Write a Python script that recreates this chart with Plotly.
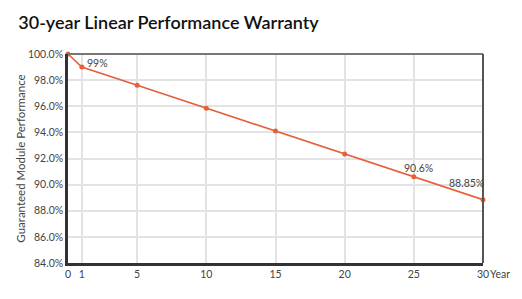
import plotly.graph_objects as go

years = [0, 1, 5, 10, 15, 20, 25, 30]
performance = [100.0, 99.0, 97.6, 95.85, 94.1, 92.35, 90.6, 88.85]
x_tick_vals = [0, 1, 5, 10, 15, 20, 25, 30]
x_tick_text = ["0", "1", "5", "10", "15", "20", "25", "30"]
y_tick_vals = [84, 86, 88, 90, 92, 94, 96, 98, 100]
y_tick_text = ["84.0%", "86.0%", "88.0%", "90.0%", "92.0%", "94.0%", "96.0%", "98.0%", "100.0%"]
label_points = [(1, 99.0, "99%"), (25, 90.6, "90.6%"), (30, 88.85, "88.85%")]

FONT = "Lato, Roboto, sans-serif"
LINE = "#E5603A"

fig = go.Figure()
fig.add_trace(go.Scatter(
    x=years, y=performance, mode="lines+markers",
    line=dict(color=LINE, width=1.6),
    marker=dict(color=LINE, size=5),
    hoverinfo="skip", cliponaxis=False,
))

offsets = {"99%": (16, 4), "90.6%": (5, 9), "88.85%": (-17, 17)}
for x, y, t in label_points:
    dx, dy = offsets[t]
    fig.add_annotation(x=x, y=y, text=t, showarrow=False, xshift=dx, yshift=dy,
                       font=dict(family=FONT, size=10.5, color="#444"))

fig.add_annotation(x=30, y=84, text="Year", showarrow=False, xanchor="left", yanchor="top",
                   xshift=5, yshift=-3, font=dict(family=FONT, size=10.5, color="#444"))

# frame: top and right
fig.add_shape(type="line", xref="paper", yref="paper", x0=0, x1=1, y0=1, y1=1,
              line=dict(color="#777", width=2))
fig.add_shape(type="line", xref="paper", yref="paper", x0=1, x1=1, y0=0, y1=1,
              line=dict(color="#555", width=2))

fig.update_layout(
    width=522, height=299,
    margin=dict(l=68, r=39, t=54, b=36),
    paper_bgcolor="white", plot_bgcolor="white",
    showlegend=False,
    title=dict(text="30-year Linear Performance Warranty", x=0.035, xanchor="left",
               y=0.925, yanchor="middle",
               font=dict(family=FONT, size=18, color="#111", weight=600)),
    xaxis=dict(range=[0, 30], tickvals=x_tick_vals, ticktext=x_tick_text,
               showgrid=True, gridcolor="#e3e3e3", gridwidth=1.5,
               showline=True, linecolor="#333", linewidth=2.5,
               ticks="", tickfont=dict(family=FONT, size=10.5, color="#444"),
               zeroline=False),
    yaxis=dict(range=[84, 100], tickvals=y_tick_vals, ticktext=y_tick_text,
               showgrid=True, gridcolor="#e3e3e3", gridwidth=1.5,
               showline=True, linecolor="#333", linewidth=2.5,
               ticks="", tickfont=dict(family=FONT, size=10.5, color="#444"),
               zeroline=False,
               title=dict(text="Guaranteed Module Performance", standoff=0,
                          font=dict(family=FONT, size=11.5, color="#444"))),
)

fig.write_html("out.html")
